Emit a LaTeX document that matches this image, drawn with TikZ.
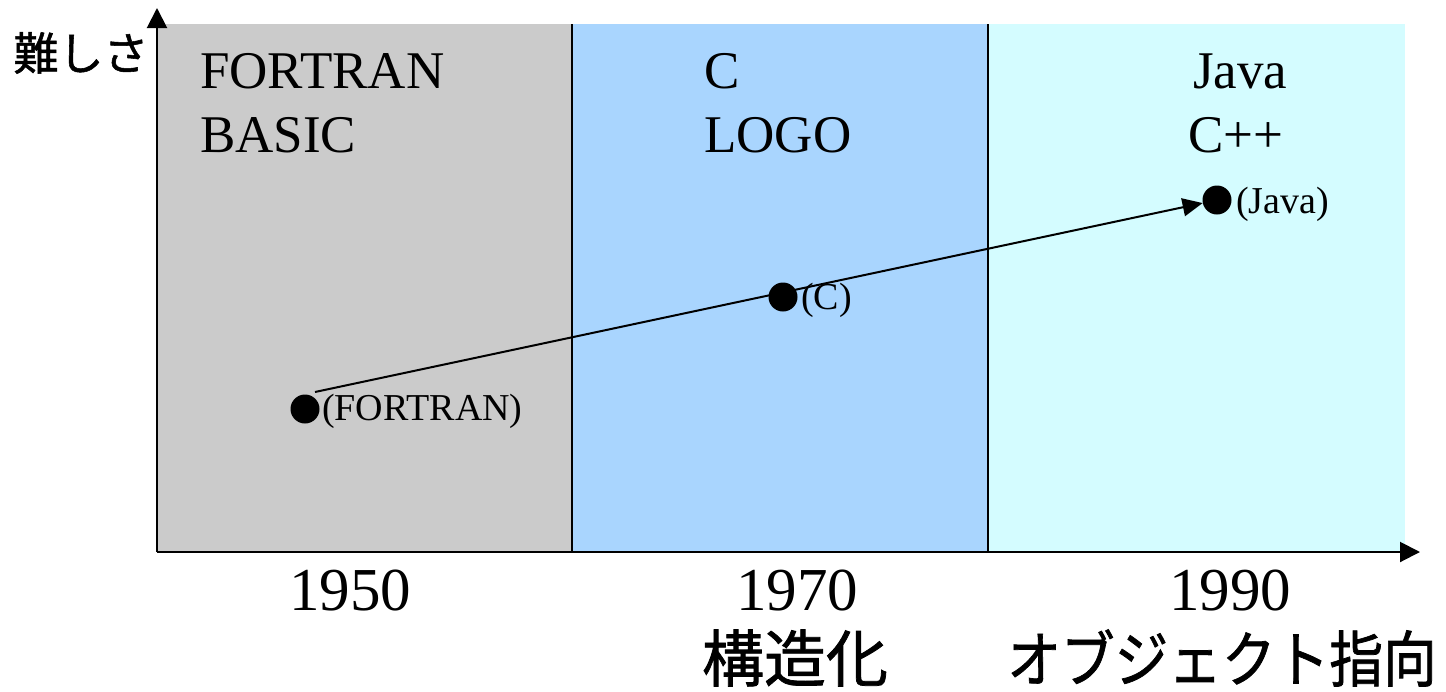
\documentclass[tikz,border=0pt]{standalone}
\usepackage{fontspec}
\setmainfont{Liberation Serif}
\newfontfamily\jpfont{Noto Sans CJK JP}[FakeBold=1.2]
\usetikzlibrary{arrows.meta}
\definecolor{eraA}{HTML}{CBCBCB}
\definecolor{eraB}{HTML}{A9D5FE}
\definecolor{eraC}{HTML}{D4FCFF}
\tikzset{
  axis/.style={line width=2pt,-{Triangle[length=20pt,width=20pt]}},
  divider/.style={line width=1.5pt},
  lang/.style={anchor=base west,inner sep=0pt,font=\fontsize{53}{60}\selectfont},
  dot/.style={circle,fill=black,inner sep=0pt,minimum size=29pt},
  dotlabel/.style={anchor=west,inner sep=0pt,font=\fontsize{38}{40}\selectfont},
  year/.style={anchor=base,inner sep=0pt,font=\fontsize{61}{64}\selectfont},
  jp/.style={inner sep=0pt},
  trend/.style={line width=2pt,-{Triangle[length=20pt,width=18pt]}}
}
\begin{document}
\begin{tikzpicture}[x=1pt,y=-1pt]
\useasboundingbox (0,0) rectangle (1446,691);
% era bands
\fill[eraA] (157,24) rectangle (572,551);
\fill[eraB] (572,24) rectangle (988,551);
\fill[eraC] (988,24) rectangle (1405,551);
\coordinate (d1t) at (572,24); \coordinate (d1b) at (572,551);
\coordinate (d2t) at (988,24); \coordinate (d2b) at (988,551);
\draw[divider] (d1b) -- (d1t);
\draw[divider] (d2b) -- (d2t);
% axes
\coordinate (o) at (157,552);
\coordinate (ytip) at (157,8);
\coordinate (xtip) at (1420,552);
\draw[axis] (o) -- (ytip);
\draw[axis] (o) -- (xtip);
\node[jp,font=\jpfont\fontsize{45}{50}\selectfont] (ylab) at (81,53) {難しさ};
% language lists
\node[lang] (l1a) at (200,88) {FORTRAN};
\node[lang] (l1b) at (200,152) {BASIC};
\node[lang] (l2a) at (704,88) {C};
\node[lang] (l2b) at (704,152) {LOGO};
\node[lang] (l3a) at (1193,88) {Java};
\node[lang] (l3b) at (1188,152) {C++};
% dots
\node[dot] (fdot) at (305,409) {};
\node[dot] (cdot) at (783,297) {};
\node[dot] (jdot) at (1217,200) {};
\node[dotlabel] (flab) at (322,411) {(FORTRAN)};
\node[dotlabel] (clab) at (801,300) {(C)};
\node[dotlabel] (jlab) at (1236,204) {(Java)};
\coordinate (start) at (315,392);
\draw[trend] (start) -- (jdot);
% years
\node[year] (y1) at (350,610) {1950};
\node[year] (y2) at (797,610) {1970};
\node[year] (y3) at (1230,610) {1990};
\node[jp,font=\jpfont\fontsize{62}{64}\selectfont] (e2) at (795,658) {構造化};
\node[jp,font=\jpfont\fontsize{61}{64}\selectfont,xscale=0.88] (e3) at (1222,658) {オブジェクト指向};
\end{tikzpicture}
\end{document}
